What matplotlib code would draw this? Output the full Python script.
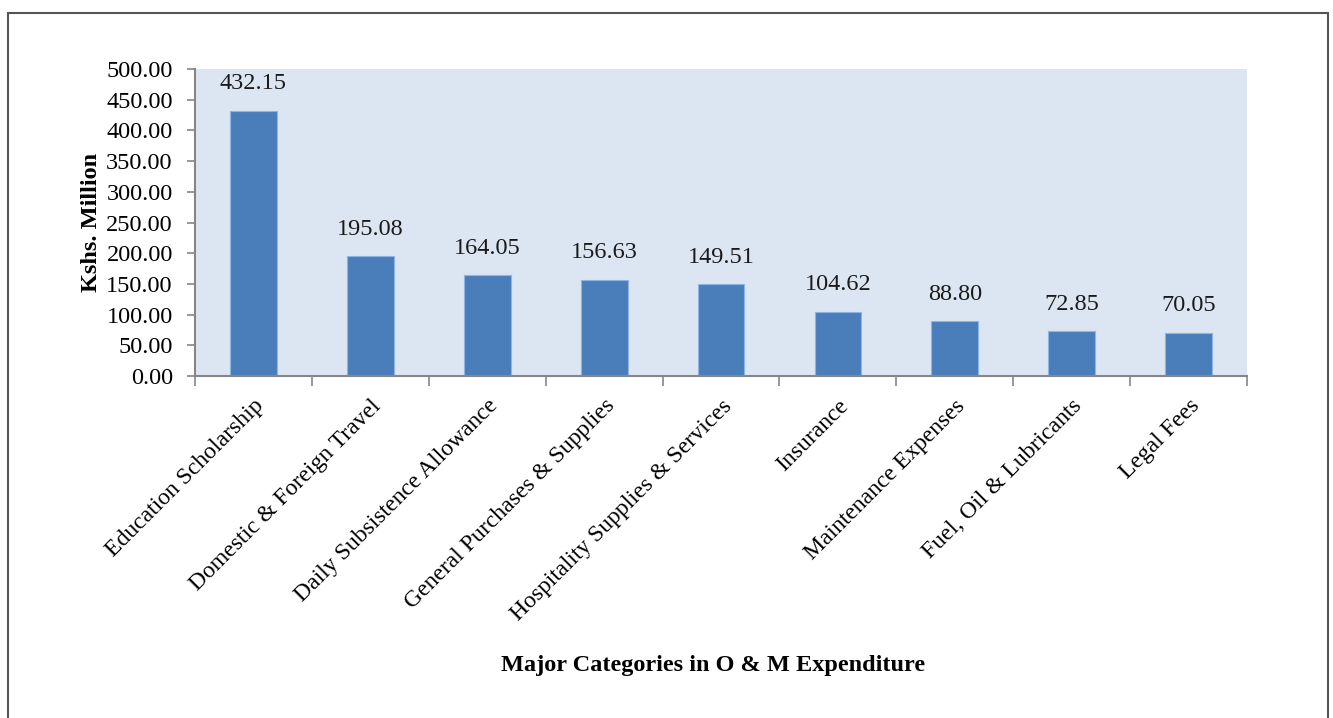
import numpy as np
import matplotlib.pyplot as plt
from matplotlib.patches import Rectangle

categories = ['Education Scholarship', 'Domestic & Foreign Travel', 'Daily Subsistence Allowance',
              'General Purchases & Supplies', 'Hospitality Supplies & Services', 'Insurance',
              'Maintenance Expenses', 'Fuel, Oil & Lubricants', 'Legal Fees']
values = [432.15, 195.08, 164.05, 156.63, 149.51, 104.62, 88.80, 72.85, 70.05]
yticks = [0, 50, 100, 150, 200, 250, 300, 350, 400, 450, 500]

plt.rcParams['font.family'] = ['Liberation Serif', 'DejaVu Serif']

fig = plt.figure(figsize=(13.33, 7.18), dpi=100)
ax = fig.add_axes([0.1463, 0.4763, 0.7892, 0.4276])
ax.set_facecolor('#dce6f2')

# outer frame
fig.patches.append(Rectangle((8 / 1333, -0.05), 1320 / 1333, 1.05 - 13 / 718,
                             transform=fig.transFigure, fill=False,
                             edgecolor='#555555', linewidth=1.5))

x = np.arange(len(categories))
bars = ax.bar(x, values, width=0.4, color='#4a7ebb', edgecolor='#8eb4e3', linewidth=0.8)

for xi, v in zip(x, values):
    ax.annotate(f'{v:.2f}', (xi, v), xytext=(0, 12), textcoords='offset points',
                ha='center', va='bottom', fontsize=17.5, color='#1a1a1a')

ax.set_xlim(-0.5, len(categories) - 0.5)
ax.set_ylim(0, 500)
ax.set_yticks(yticks)
ax.set_yticklabels([f'{t:.2f}' for t in yticks], fontsize=17.5)

ax.set_xticks(x)
ax.set_xticklabels(categories, rotation=45, ha='right', rotation_mode='anchor', fontsize=17)
ax.tick_params(axis='x', length=0, pad=14)
ax.set_xticks(np.arange(-0.5, len(categories)), minor=True)
ax.tick_params(axis='x', which='minor', length=7, color='#868686', width=1.2)
ax.tick_params(axis='y', length=6, color='#868686', width=1.2, pad=10)

for s in ['top', 'right']:
    ax.spines[s].set_visible(False)
for s in ['left', 'bottom']:
    ax.spines[s].set_color('#868686')
    ax.spines[s].set_linewidth(1.5)

ax.set_ylabel('Kshs. Million', fontsize=17.5, fontweight='bold', labelpad=3)
fig.text(0.535, 0.073, 'Major Categories in O & M Expenditure', ha='center', va='center',
         fontsize=17.5, fontweight='bold')

fig.savefig('out.png', dpi=100)
